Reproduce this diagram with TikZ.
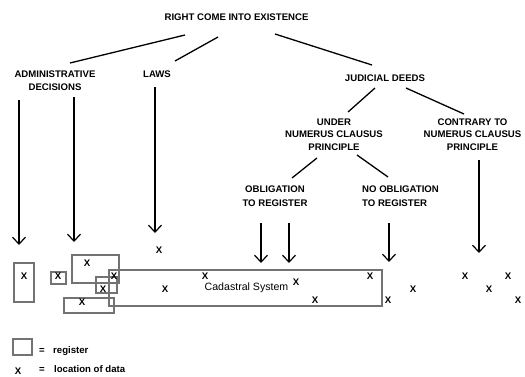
\documentclass[tikz,border=0pt]{standalone}
\usepackage{fontspec}
\setmainfont{Liberation Sans}
\usetikzlibrary{arrows.meta}
\tikzset{
  lbl/.style={font=\fontsize{9.6}{13}\selectfont\bfseries, inner sep=0pt, align=center},
  xmark/.style={font=\fontsize{9.6}{10}\selectfont\bfseries, inner sep=0pt},
  conn/.style={line width=1.3pt, black},
  arr/.style={line width=1.3pt, black, -{Straight Barb[length=7pt,width=13pt,line width=1.2pt]}},
  reg/.style={draw=black!55, line width=1.2pt},
}
\begin{document}
\begin{tikzpicture}[x=1pt,y=-1pt]
\useasboundingbox (0,0) rectangle (525,376);
% text nodes
\node[lbl] (root) at (236.5,17) {RIGHT COME INTO EXISTENCE};
\node[lbl] (admin) at (55,80.5) {ADMINISTRATIVE\\DECISIONS\hspace{14pt}};
\node[lbl] (laws) at (157,74) {LAWS};
\node[lbl] (jud) at (385,78) {JUDICIAL DEEDS};
\node[lbl, font=\fontsize{9.6}{12.5}\selectfont\bfseries] (under) at (334,134.5) {UNDER\hspace{-6pt}\\NUMERUS CLAUSUS\\PRINCIPLE};
\node[lbl, font=\fontsize{9.6}{12.5}\selectfont\bfseries] (contra) at (472.5,134.5) {CONTRARY TO\\NUMERUS CLAUSUS\\PRINCIPLE};
\node[lbl, font=\fontsize{9.6}{14}\selectfont\bfseries] (obl) at (275,196) {OBLIGATION\\TO REGISTER};
\node[lbl, align=left, anchor=west, font=\fontsize{9.6}{14}\selectfont\bfseries] (noobl) at (362,196) {NO OBLIGATION\\TO REGISTER};
% connector end points
\coordinate (r1) at (185,35);   \coordinate (a1) at (70,63);
\coordinate (r2) at (218,37);   \coordinate (l1) at (175,61);
\coordinate (r3) at (275,34);   \coordinate (j1) at (372,65);
\coordinate (j2) at (375,88);   \coordinate (u1) at (348,112);
\coordinate (j3) at (406,88);   \coordinate (c1) at (464,114);
\coordinate (u2) at (317,158);  \coordinate (o1) at (292,178);
\coordinate (u3) at (357,155);  \coordinate (n1) at (388,177);
\draw[conn] (r1) -- (a1);
\draw[conn] (r2) -- (l1);
\draw[conn] (r3) -- (j1);
\draw[conn] (j2) -- (u1);
\draw[conn] (j3) -- (c1);
\draw[conn] (u2) -- (o1);
\draw[conn] (u3) -- (n1);
% arrows
\coordinate (s1) at (19,100);  \coordinate (t1) at (19,245);
\coordinate (s2) at (74,97);   \coordinate (t2) at (74,242);
\coordinate (s3) at (155,87);  \coordinate (t3) at (155,233);
\coordinate (s4) at (261,223); \coordinate (t4) at (261,263);
\coordinate (s5) at (289,223); \coordinate (t5) at (289,263);
\coordinate (s6) at (389,223); \coordinate (t6) at (389,262);
\coordinate (s7) at (479,160); \coordinate (t7) at (479,253);
\foreach \i in {1,...,7} { \draw[arr] (s\i) -- (t\i); }
% registers
\draw[reg] (14,263) rectangle (34,302);
\draw[reg] (51,272) rectangle (66,284);
\draw[reg] (72,255) rectangle (119,283);
\draw[reg] (96,277) rectangle (117,293);
\draw[reg] (64,298) rectangle (114,313);
\draw[reg] (109,270) rectangle (382,306);
\node[inner sep=0pt, font=\fontsize{10.6}{12}\selectfont] (cad) at (246.5,288) {Cadastral System};
% locations of data
\foreach \p [count=\k] in {(24,276),(58,276),(87,263),(103,289),(82,302),(114,276),(165,289),(159,250),(205,276),(296,282),(315,300),(370,276),(413,289),(388,300),(465,276),(508,276),(489,289),(518,300)}
  { \node[xmark] (x\k) at \p {X}; }
% legend
\draw[reg] (13,339) rectangle (32,355);
\node[lbl, anchor=west] (eq1) at (39,351) {=};
\node[lbl, anchor=west] (lreg) at (53,351) {register};
\node[xmark] (lx) at (18,371) {X};
\node[lbl, anchor=west] (eq2) at (39,370) {=};
\node[lbl, anchor=west] (lloc) at (54,369) {location of data};
\end{tikzpicture}
\end{document}
